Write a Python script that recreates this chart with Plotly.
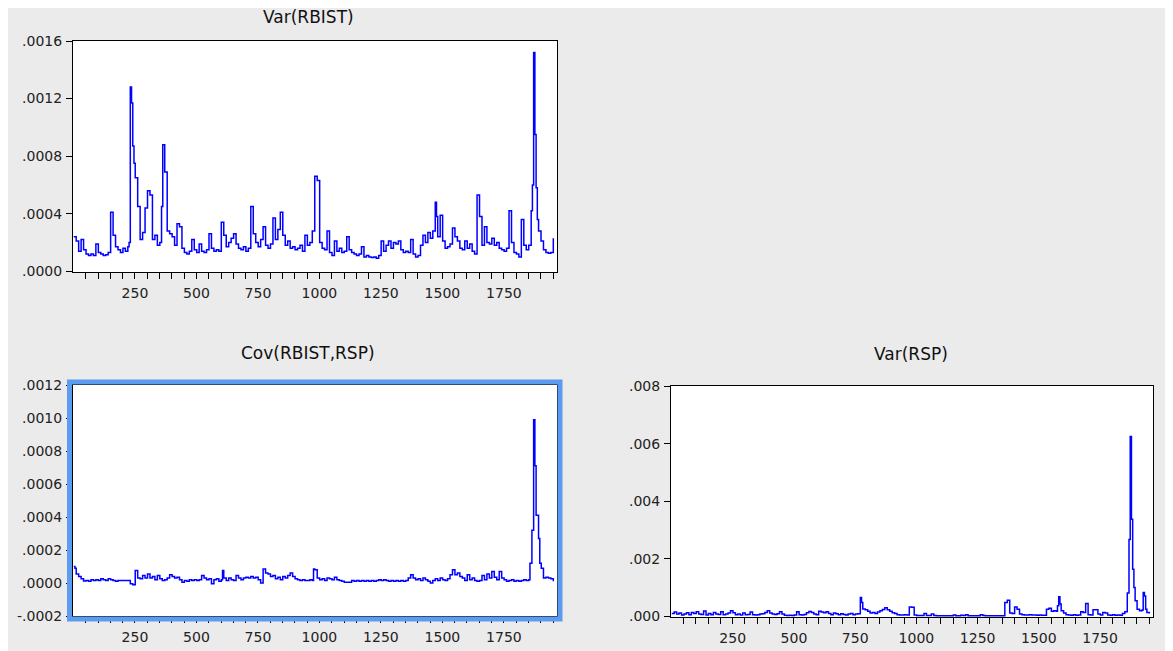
import plotly.graph_objects as go

# ---------------- data ----------------
# Var(RBIST), values in units of 1e-4
var_rbist_obs = [1, 11, 21, 31, 41, 51, 61, 71, 81, 91, 101, 111, 121, 131, 141, 151, 161, 171, 181, 191,
                 201, 211, 221, 226, 231, 236, 241, 246, 251, 261, 271, 281, 291, 301, 311, 321, 331, 341, 351, 358,
                 363, 371, 381, 391, 401, 411, 421, 431, 441, 451, 461, 471, 481, 491, 501, 511, 521, 531, 541, 551,
                 561, 571, 581, 591, 601, 611, 621, 631, 641, 651, 661, 671, 681, 691, 701, 711, 721, 731, 741, 751,
                 761, 771, 781, 791, 801, 811, 821, 831, 841, 851, 861, 871, 881, 891, 901, 911, 921, 931, 941, 951,
                 961, 971, 981, 991, 1001, 1011, 1021, 1031, 1041, 1051, 1061, 1071, 1081, 1091, 1101, 1111, 1121, 1131, 1141, 1151,
                 1161, 1171, 1181, 1191, 1201, 1211, 1221, 1231, 1241, 1251, 1261, 1271, 1281, 1291, 1301, 1311, 1321, 1331, 1341, 1351,
                 1361, 1371, 1381, 1391, 1401, 1411, 1421, 1431, 1441, 1451, 1461, 1471, 1476, 1481, 1491, 1501, 1511, 1521, 1531, 1541,
                 1551, 1561, 1571, 1581, 1591, 1601, 1611, 1621, 1631, 1641, 1651, 1661, 1671, 1681, 1691, 1701, 1711, 1721, 1731, 1741,
                 1751, 1761, 1771, 1781, 1791, 1801, 1811, 1821, 1831, 1841, 1851, 1861, 1866, 1871, 1876, 1881, 1886, 1891, 1901, 1911,
                 1921, 1931, 1941, 1951]
var_rbist_e4 = [2.4, 2.1, 1.4, 2.2, 1.5, 1.2, 1.1, 1.2, 1.1, 1.9, 1.3, 1.2, 1.1, 1.15, 1.3, 4.1, 2.5, 1.7, 1.5, 1.3,
                1.6, 1.4, 1.7, 2.0, 12.8, 11.7, 8.7, 7.5, 6.5, 4.5, 2.2, 2.7, 4.4, 5.6, 5.3, 2.2, 2.5, 1.8, 2.0, 4.5,
                8.8, 6.9, 2.8, 2.6, 2.4, 1.8, 3.3, 3.1, 1.6, 1.3, 1.2, 1.4, 2.2, 1.5, 1.3, 1.9, 1.4, 1.3, 1.5, 2.6,
                1.6, 1.4, 1.5, 1.4, 3.4, 2.5, 1.7, 2.0, 2.3, 2.6, 1.9, 1.6, 1.5, 1.7, 1.4, 1.6, 4.5, 2.6, 2.0, 1.7,
                2.2, 3.1, 1.8, 1.6, 1.9, 3.7, 2.2, 2.9, 4.1, 2.5, 1.8, 2.1, 1.6, 1.7, 1.5, 1.6, 1.8, 1.4, 2.5, 1.8,
                2.0, 2.8, 6.6, 6.3, 2.0, 1.6, 1.5, 2.8, 1.3, 1.1, 2.1, 1.4, 1.6, 1.3, 1.4, 2.4, 1.5, 1.3, 1.2, 1.1,
                1.2, 1.7, 1.0, 1.1, 1.0, 0.95, 1.0, 0.9, 1.1, 2.1, 1.4, 1.8, 2.1, 1.6, 2.0, 1.9, 2.1, 1.5, 1.3, 1.4,
                1.3, 2.2, 1.2, 1.0, 1.1, 1.8, 2.5, 2.0, 2.7, 2.3, 2.8, 4.8, 3.8, 2.4, 3.9, 2.1, 1.6, 1.7, 1.9, 3.0,
                2.4, 2.1, 1.6, 1.5, 2.1, 1.6, 1.9, 1.4, 1.2, 5.3, 3.8, 1.8, 3.1, 2.0, 1.9, 2.3, 1.8, 2.0, 1.6, 1.5,
                1.4, 1.6, 4.2, 2.0, 1.3, 1.2, 1.0, 3.6, 1.8, 1.5, 1.8, 4.2, 6.0, 15.2, 9.5, 5.8, 3.6, 2.8, 2.1, 1.5,
                1.3, 1.25, 1.3, 2.3]

# Cov(RBIST,RSP), values in units of 1e-4
cov_obs = [1, 6, 11, 21, 31, 41, 51, 61, 71, 81, 91, 101, 111, 121, 131, 141, 151, 161, 171, 181,
           191, 201, 211, 221, 231, 241, 251, 261, 271, 281, 291, 301, 311, 321, 331, 341, 351, 361, 371, 381,
           391, 401, 411, 421, 431, 441, 451, 461, 471, 481, 491, 501, 511, 521, 531, 541, 551, 561, 571, 581,
           591, 601, 606, 611, 621, 631, 641, 651, 661, 671, 681, 691, 701, 711, 721, 731, 741, 751, 761, 771,
           781, 791, 801, 811, 821, 831, 841, 851, 861, 871, 881, 891, 901, 911, 921, 931, 941, 951, 961, 971,
           976, 981, 991, 1001, 1011, 1021, 1031, 1041, 1051, 1061, 1071, 1081, 1091, 1101, 1111, 1121, 1131, 1141, 1151, 1161,
           1171, 1181, 1191, 1201, 1211, 1221, 1231, 1241, 1251, 1261, 1271, 1281, 1291, 1301, 1311, 1321, 1331, 1341, 1351, 1361,
           1371, 1381, 1391, 1401, 1411, 1421, 1431, 1441, 1451, 1461, 1471, 1481, 1491, 1501, 1511, 1521, 1531, 1541, 1551, 1561,
           1571, 1581, 1591, 1601, 1611, 1621, 1631, 1641, 1651, 1661, 1671, 1681, 1691, 1701, 1711, 1721, 1731, 1741, 1751, 1761,
           1771, 1781, 1791, 1801, 1811, 1821, 1831, 1841, 1851, 1856, 1864, 1871, 1876, 1881, 1886, 1891, 1896, 1902, 1911, 1921,
           1931, 1941, 1951]
cov_e4 = [1.0, 0.9, 0.55, 0.4, 0.25, 0.12, 0.15, 0.1, 0.2, 0.15, 0.2, 0.15, 0.25, 0.2, 0.15, 0.25, 0.2, 0.15, 0.1, 0.15,
          0.15, 0.15, 0.15, 0.15, -0.05, -0.1, 0.75, 0.3, 0.25, 0.45, 0.3, 0.55, 0.3, 0.4, 0.2, 0.45, 0.25, 0.15, 0.2, 0.3,
          0.5, 0.4, 0.3, 0.35, 0.2, 0.05, 0.15, 0.1, 0.2, 0.15, 0.2, 0.15, 0.2, 0.45, 0.3, 0.2, 0.25, -0.05, 0.2, 0.25,
          0.1, 0.2, 0.75, 0.3, 0.15, 0.3, 0.2, 0.15, 0.45, 0.3, 0.2, 0.3, 0.35, 0.3, 0.4, 0.3, 0.35, 0.2, 0.0, 0.85,
          0.6, 0.55, 0.4, 0.45, 0.25, 0.35, 0.2, 0.4, 0.3, 0.45, 0.6, 0.4, 0.25, 0.2, 0.15, 0.2, 0.15, 0.15, 0.2, 0.15,
          0.85, 0.8, 0.3, 0.2, 0.25, 0.15, 0.3, 0.25, 0.2, 0.35, 0.2, 0.15, 0.1, 0.05, 0.05, 0.05, 0.15, 0.1, 0.15, 0.1,
          0.15, 0.1, 0.15, 0.1, 0.15, 0.1, 0.15, 0.2, 0.15, 0.2, 0.15, 0.1, 0.15, 0.1, 0.15, 0.1, 0.15, 0.1, 0.15, 0.3,
          0.5, 0.3, 0.2, 0.25, 0.15, 0.3, 0.2, 0.1, 0.0, 0.15, 0.25, 0.15, 0.3, 0.2, 0.15, 0.25, 0.5, 0.8, 0.5, 0.6,
          0.4, 0.3, 0.15, 0.5, 0.2, 0.3, 0.15, 0.1, 0.15, 0.45, 0.2, 0.55, 0.3, 0.7, 0.35, 0.2, 0.7, 0.3, 0.2, 0.1,
          0.15, 0.2, 0.1, 0.15, 0.1, 0.15, 0.2, 0.15, 0.2, 1.2, 3.2, 9.9, 7.1, 4.1, 4.1, 2.7, 1.2, 0.9, 0.3, 0.35,
          0.3, 0.25, 0.1]

# Var(RSP), values in units of 1e-4
var_rsp_obs = [1, 11, 21, 31, 41, 51, 61, 71, 81, 91, 101, 111, 121, 131, 141, 151, 161, 171, 181, 191,
               201, 211, 221, 231, 241, 251, 261, 271, 281, 291, 301, 311, 321, 331, 341, 351, 361, 371, 381, 391,
               401, 411, 421, 431, 441, 451, 461, 471, 481, 491, 501, 511, 521, 531, 541, 551, 561, 571, 581, 591,
               601, 611, 621, 631, 641, 651, 661, 671, 681, 691, 701, 711, 721, 731, 741, 751, 761, 771, 776, 781,
               791, 801, 811, 821, 831, 841, 851, 861, 871, 881, 891, 901, 911, 921, 931, 941, 951, 961, 971, 981,
               991, 1001, 1011, 1021, 1031, 1041, 1051, 1061, 1071, 1081, 1091, 1101, 1111, 1121, 1131, 1141, 1151, 1161, 1171, 1181,
               1191, 1201, 1211, 1221, 1231, 1241, 1251, 1261, 1271, 1281, 1291, 1301, 1311, 1321, 1331, 1341, 1351, 1361, 1371, 1381,
               1391, 1401, 1411, 1421, 1431, 1441, 1451, 1461, 1471, 1481, 1491, 1501, 1511, 1521, 1531, 1541, 1551, 1561, 1571, 1576,
               1581, 1586, 1591, 1601, 1611, 1621, 1631, 1641, 1651, 1661, 1671, 1681, 1691, 1701, 1711, 1721, 1731, 1741, 1751, 1761,
               1771, 1781, 1791, 1801, 1811, 1821, 1831, 1841, 1851, 1861, 1868, 1873, 1878, 1883, 1888, 1893, 1901, 1911, 1921, 1926,
               1931, 1936, 1941, 1951]
var_rsp_e4 = [1.0, 1.5, 0.8, 1.2, 0.5, 0.8, 1.3, 0.6, 1.4, 1.0, 1.6, 0.8, 0.7, 1.9, 0.5, 1.0, 0.6, 1.4, 0.8, 0.7,
              1.6, 0.6, 0.8, 1.2, 2.0, 1.3, 0.6, 0.8, 0.5, 1.2, 0.6, 0.7, 1.5, 0.6, 0.5, 0.6, 0.8, 0.9, 1.4, 2.0,
              1.2, 0.8, 0.7, 0.9, 1.6, 0.8, 0.4, 0.3, 0.4, 0.3, 0.5, 1.6, 0.6, 0.5, 0.7, 1.3, 1.7, 1.4, 0.8, 0.6,
              1.8, 1.5, 1.3, 1.6, 1.0, 0.6, 1.2, 0.9, 0.6, 0.9, 0.7, 0.5, 0.8, 1.0, 0.6, 0.8, 0.9, 6.6, 4.8, 2.6,
              2.3, 1.8, 1.2, 1.4, 1.0, 1.5, 2.0, 2.4, 3.0, 2.3, 1.8, 1.3, 1.0, 0.6, 0.5, 0.5, 0.6, 0.5, 3.3, 3.2,
              0.5, 0.3, 0.3, 0.3, 1.0, 0.3, 0.3, 0.8, 0.3, 0.2, 0.2, 0.2, 0.2, 0.2, 0.2, 0.2, 0.5, 0.2, 0.2, 0.4,
              0.3, 0.6, 0.2, 0.2, 0.2, 0.2, 0.2, 0.6, 0.3, 0.2, 0.2, 0.2, 0.2, 0.2, 0.2, 0.2, 0.2, 4.8, 5.6, 1.2,
              1.0, 3.3, 2.5, 0.8, 0.6, 0.5, 0.5, 0.6, 0.5, 0.5, 0.4, 0.5, 0.4, 0.4, 2.5, 2.8, 1.8, 2.0, 1.8, 3.7,
              6.8, 4.3, 2.0, 1.2, 0.6, 0.5, 0.4, 0.6, 0.4, 0.5, 1.6, 1.4, 4.5, 0.6, 0.5, 2.3, 2.3, 0.8, 0.5, 1.4,
              1.2, 0.5, 0.4, 0.6, 0.4, 0.5, 0.4, 1.0, 1.6, 8.1, 26.7, 62.5, 33.7, 16.4, 10.0, 5.4, 2.5, 2.0, 2.2, 8.3,
              7.1, 2.5, 1.4, 1.0]

titles = ["Var(RBIST)", "Cov(RBIST,RSP)", "Var(RSP)"]
x_tick_vals = [250, 500, 750, 1000, 1250, 1500, 1750]
x_tick_text = ["250", "500", "750", "1000", "1250", "1500", "1750"]
y1_vals = [0.0, 0.0004, 0.0008, 0.0012, 0.0016]
y1_text = [".0000", ".0004", ".0008", ".0012", ".0016"]
y2_vals = [-0.0002, 0.0, 0.0002, 0.0004, 0.0006, 0.0008, 0.0010, 0.0012]
y2_text = ["-.0002", ".0000", ".0002", ".0004", ".0006", ".0008", ".0010", ".0012"]
y3_vals = [0.0, 0.002, 0.004, 0.006, 0.008]
y3_text = [".000", ".002", ".004", ".006", ".008"]

# ---------------- figure ----------------
# The page body keeps its default 8px margin, so the figure is drawn 8px
# right/down of the window corner; positions below are given in window px.
OFF = 8
W, H = 1173 - OFF, 651 - OFF
FONT = "DejaVu Sans, Arial, sans-serif"
LINE = dict(color="#0000ff", width=1.5, shape="hv")

def px_x(p):
    return (p - OFF) / W

def px_y(p):
    return 1 - (p - OFF) / H

fig = go.Figure()
fig.add_trace(go.Scatter(x=var_rbist_obs, y=[v * 1e-4 for v in var_rbist_e4], mode="lines",
                         line=LINE, xaxis="x", yaxis="y", showlegend=False, hoverinfo="x+y"))
fig.add_trace(go.Scatter(x=cov_obs, y=[v * 1e-4 for v in cov_e4], mode="lines",
                         line=LINE, xaxis="x2", yaxis="y2", showlegend=False, hoverinfo="x+y"))
fig.add_trace(go.Scatter(x=var_rsp_obs, y=[v * 1e-4 for v in var_rsp_e4], mode="lines",
                         line=LINE, xaxis="x3", yaxis="y3", showlegend=False, hoverinfo="x+y"))

minor_vals = list(range(50, 1951, 50))
tickfont = dict(family=FONT, size=14, color="#222222")
XRANGE = [-2, 1966]

def xaxis(domain, anchor):
    return dict(domain=domain, anchor=anchor, range=XRANGE, tickmode="array",
                tickvals=x_tick_vals, ticktext=x_tick_text, ticks="outside", ticklen=6,
                tickcolor="black", tickwidth=1, automargin=False,
                minor=dict(tickmode="array", tickvals=minor_vals, ticks="outside", ticklen=6,
                           tickcolor="black", tickwidth=1, showgrid=False),
                showline=True, linecolor="black", linewidth=1, mirror=True,
                showgrid=False, zeroline=False, tickfont=tickfont, ticklabelstandoff=2)

def yaxis(domain, anchor, rng, vals, text):
    return dict(domain=domain, anchor=anchor, range=rng, tickmode="array",
                tickvals=vals, ticktext=text, ticks="outside", ticklen=6,
                tickcolor="black", tickwidth=1, automargin=False,
                showline=True, linecolor="black", linewidth=1, mirror=True,
                showgrid=False, zeroline=False, tickfont=tickfont, ticklabelstandoff=1)

title_font = dict(family=FONT, size=17, color="#111111")

fig.update_layout(
    width=W, height=H,
    margin=dict(l=0, r=0, t=0, b=0),
    paper_bgcolor="#ebebeb",
    plot_bgcolor="white",
    xaxis=xaxis([px_x(73), px_x(557)], "y"),
    yaxis=yaxis([px_y(272), px_y(41)], "x", [-0.000005, 0.0016], y1_vals, y1_text),
    xaxis2=xaxis([px_x(73), px_x(557)], "y2"),
    yaxis2=yaxis([px_y(616), px_y(385)], "x2", [-0.0002, 0.0012], y2_vals, y2_text),
    xaxis3=xaxis([px_x(671), px_x(1153)], "y3"),
    yaxis3=yaxis([px_y(617), px_y(386)], "x3", [-0.00002, 0.008], y3_vals, y3_text),
    shapes=[
        dict(type="rect", xref="paper", yref="paper", x0=px_x(69.5), x1=px_x(560),
             y0=px_y(619), y1=px_y(382), fillcolor="rgba(0,0,0,0)",
             line=dict(color="#5c9cf0", width=5), layer="above"),
    ],
    annotations=[
        dict(text=titles[0], x=px_x(308), y=px_y(17), xref="paper", yref="paper",
             showarrow=False, xanchor="center", yanchor="middle", font=title_font),
        dict(text=titles[1], x=px_x(308), y=px_y(353), xref="paper", yref="paper",
             showarrow=False, xanchor="center", yanchor="middle", font=title_font),
        dict(text=titles[2], x=px_x(911), y=px_y(354), xref="paper", yref="paper",
             showarrow=False, xanchor="center", yanchor="middle", font=title_font),
    ],
)

fig.write_html("out.html")
